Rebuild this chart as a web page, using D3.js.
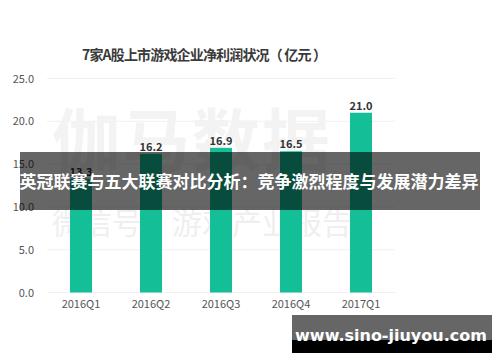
<!DOCTYPE html>
<html><head><meta charset="utf-8">
<script src="https://cdn.jsdelivr.net/npm/d3@7/dist/d3.min.js"></script>
<style>
html,body{margin:0;padding:0;background:#fff;}
svg{display:block;}
text{font-family:"Noto Sans CJK SC","Noto Sans",sans-serif;}
</style></head>
<body>
<svg id="c" width="500" height="362"></svg>
<script>
const categories = ["2016Q1","2016Q2","2016Q3","2016Q4","2017Q1"];
const values = [13.3, 16.2, 16.9, 16.5, 21.0];
const yTicks = [0, 5, 10, 15, 20, 25];
const title = "7家A股上市游戏企业净利润状况（ 亿元 ）";
const bannerText = "英冠联赛与五大联赛对比分析：竞争激烈程度与发展潜力差异";
const siteText = "www.sino-jiuyou.com";
const wmBig = "伽马数据";
const wmSmall = "微信号：游戏产业报告";

const svg = d3.select("#c");
const x = d3.scaleBand().domain(categories).range([46, 396]).paddingInner(0.686).paddingOuter(0.343);
const y = d3.scaleLinear().domain([0, 25]).range([292.5, 78.5]);

// title
svg.append("text").attr("x", 82).attr("y", 60).attr("font-size", 14).attr("font-weight", "bold")
  .attr("fill", "#3a3a3a").attr("textLength", 245).attr("lengthAdjust", "spacing").text(title);

// grid
svg.append("g").selectAll("line").data(yTicks).join("line")
  .attr("x1", 47).attr("x2", 395).attr("y1", d => y(d)).attr("y2", d => y(d))
  .attr("stroke", "#f0f0f0").attr("stroke-width", 1);

// y axis labels
const yAxis = d3.axisLeft(y).tickValues(yTicks).tickFormat(d3.format(".1f")).tickSize(0).tickPadding(0);
const ga = svg.append("g").attr("transform", "translate(34,0)").call(yAxis);
ga.select(".domain").remove();
ga.selectAll("text").attr("font-size", 11).attr("fill", "#555").attr("font-family", "\"Noto Sans CJK SC\",sans-serif");

// watermark
svg.append("text").attr("x", 52).attr("y", 166).attr("font-size", 68).attr("font-weight", "bold")
  .attr("fill", "#f3f3f3").attr("letter-spacing", 2).text(wmBig);
svg.append("text").attr("x", 52).attr("y", 234).attr("font-size", 30)
  .attr("fill", "#efefef").text(wmSmall);

// bars
svg.append("g").selectAll("rect").data(values).join("rect")
  .attr("x", (d, i) => x(categories[i])).attr("width", x.bandwidth())
  .attr("y", d => y(d)).attr("height", d => y(0) - y(d))
  .attr("fill", "#14bf98");

// value labels
svg.append("g").selectAll("text").data(values).join("text")
  .attr("x", (d, i) => x(categories[i]) + x.bandwidth() / 2).attr("y", d => y(d) - 3)
  .attr("text-anchor", "middle").attr("font-size", 11).attr("font-weight", "bold").attr("fill", "#333")
  .text(d => d3.format(".1f")(d));

// x axis labels
const xAxis = d3.axisBottom(x).tickSize(0).tickPadding(0);
const gx = svg.append("g").attr("transform", "translate(0,300)").call(xAxis);
gx.select(".domain").remove();
gx.selectAll("text").attr("font-size", 11).attr("fill", "#555").attr("font-family", "\"Noto Sans CJK SC\",sans-serif");

// banner overlay
svg.append("rect").attr("x", 20).attr("y", 152).attr("width", 460).attr("height", 58).attr("fill", "rgba(0,0,0,0.6)");
svg.append("text").attr("x", 249).attr("y", 188).attr("text-anchor", "middle").attr("font-size", 17)
  .attr("font-weight", "bold").attr("fill", "#fff").text(bannerText);

// site tag
svg.append("rect").attr("x", 292).attr("y", 315).attr("width", 200).attr("height", 25).attr("fill", "#666");
svg.append("rect").attr("x", 292).attr("y", 340).attr("width", 200).attr("height", 13).attr("fill", "#000");
svg.append("text").attr("x", 391).attr("y", 341).attr("text-anchor", "middle").attr("font-size", 16)
  .attr("font-weight", "bold").attr("fill", "#fff").style("font-family", "\"DejaVu Sans\",sans-serif").text(siteText);
</script>
</body></html>
